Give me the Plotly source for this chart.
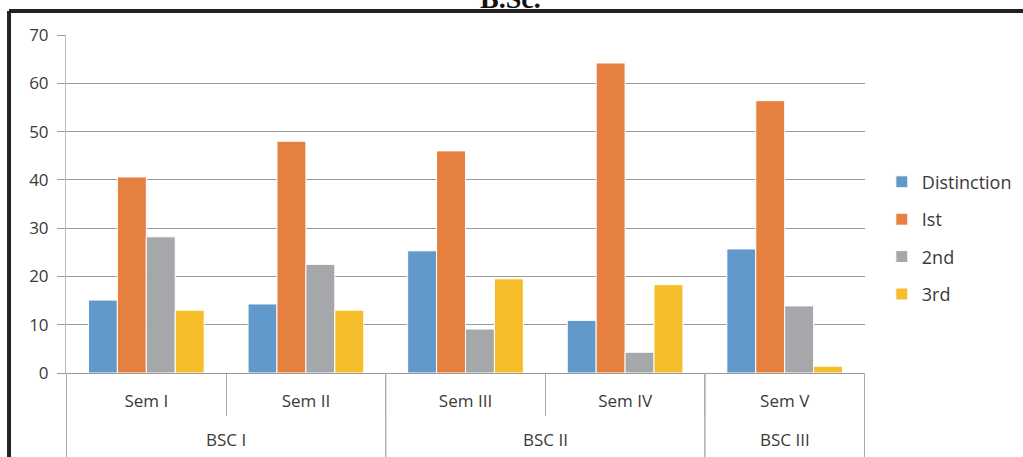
import plotly.graph_objects as go

years = ["BSC I", "BSC I", "BSC II", "BSC II", "BSC III"]
sems = ["Sem I", "Sem II", "Sem III", "Sem IV", "Sem V"]

distinction = [15.1, 14.3, 25.3, 10.9, 25.7]
first = [40.6, 48.0, 46.0, 64.2, 56.4]
second = [28.2, 22.5, 9.1, 4.3, 13.9]
third = [13.0, 13.0, 19.5, 18.3, 1.4]

series = [
    ("Distinction", distinction, "#6299CB"),
    ("Ist", first, "#E58040"),
    ("2nd", second, "#A6A7AA"),
    ("3rd", third, "#F5BD2A"),
]

fig = go.Figure()
for name, vals, col in series:
    fig.add_trace(go.Bar(x=sems, y=vals, name=name, legendgroup=name,
                         marker=dict(color=col, line=dict(color="white", width=1))))

gray = "#9a9a9a"
txt = "#3a3a3a"

fig.update_layout(
    width=1023, height=457,
    margin=dict(l=66, r=158, t=35, b=84, autoexpand=False),
    paper_bgcolor="white", plot_bgcolor="white",
    barmode="group", bargap=0.275, bargroupgap=0,
    font=dict(family="Open Sans", size=15, color=txt),
    legend=dict(xref="container", yref="container", x=0.862, y=0.479,
                xanchor="left", yanchor="middle",
                tracegroupgap=11, font=dict(size=18, color=txt), bgcolor="rgba(0,0,0,0)"),
    showlegend=True,
)
fig.update_yaxes(range=[0, 70], dtick=10, showgrid=True, gridcolor=gray, gridwidth=1,
                 showline=True, linecolor="#bbbbbb", ticks="outside", ticklen=8,
                 tickcolor=gray, ticklabelstandoff=5, zeroline=False, automargin=False,
                 tickfont=dict(size=17, color=txt))
fig.update_xaxes(type="category", showline=True, linecolor=gray, ticks="outside",
                 tickson="boundaries", ticklen=42, tickcolor="#aaaaaa",
                 ticklabelstandoff=13, automargin=False,
                 tickfont=dict(size=17, color=txt))

# outer group labels and dividers
groups = []
for i, y in enumerate(years):
    if groups and groups[-1][0] == y:
        groups[-1][2] = i
    else:
        groups.append([y, i, i])
for name, i0, i1 in groups:
    fig.add_annotation(text=name, xref="x", yref="paper", x=(i0 + i1) / 2, y=-0.198,
                       xanchor="center", yanchor="middle", showarrow=False,
                       font=dict(size=17, color=txt))
    for b in (i0 - 0.5, i1 + 0.5):
        fig.add_shape(type="line", xref="x", yref="paper", x0=b, x1=b, y0=0, y1=-0.3,
                      line=dict(color="#aaaaaa", width=1))

# frame lines (black border on top and left)
fig.add_shape(type="line", xref="paper", yref="paper", x0=-0.0713, x1=1.25, y0=1.071, y1=1.071,
              line=dict(color="#222222", width=4))
fig.add_shape(type="line", xref="paper", yref="paper", x0=-0.0713, x1=-0.0713, y0=1.071, y1=-0.3,
              line=dict(color="#222222", width=4))

# title, mostly cut off at the top like the source image
fig.add_annotation(text="<b>B.Sc.</b>", xref="paper", yref="paper", x=0.556, y=1.056,
                   xanchor="center", yanchor="bottom", showarrow=False,
                   font=dict(family="Liberation Serif", size=28, color="#111111"))

fig.write_html("out.html", config={"displayModeBar": False},
               post_script="document.body.style.margin='0px';")
